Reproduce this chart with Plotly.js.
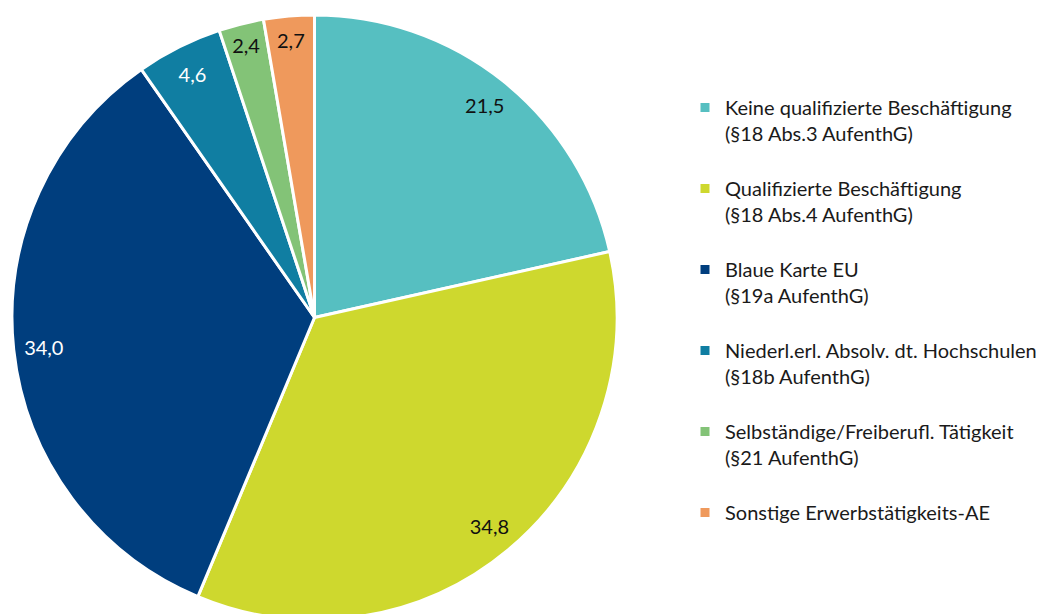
<!DOCTYPE html>
<html><head><meta charset="utf-8">
<script src="https://cdn.plot.ly/plotly-3.0.1.min.js"></script>
<style>html,body{margin:0;padding:0;overflow:hidden;background:#fff}</style>
</head><body>
<div id="chart" style="width:1043px;height:632px"></div>
<script>
const categories = [
  "Keine qualifizierte Beschäftigung<br>(§18 Abs.3 AufenthG)<br> ",
  "Qualifizierte Beschäftigung<br>(§18 Abs.4 AufenthG)<br> ",
  "Blaue Karte EU<br>(§19a AufenthG)<br> ",
  "Niederl.erl. Absolv. dt. Hochschulen<br>(§18b AufenthG)<br> ",
  "Selbständige/Freiberufl. Tätigkeit<br>(§21 AufenthG)<br> ",
  "Sonstige Erwerbstätigkeits-AE"
];
const values = [21.5, 34.8, 34.0, 4.6, 2.4, 2.7];
const colors = ["#56BFC1", "#CED82E", "#003E7E", "#107EA2", "#83C377", "#EF995C"];
const labelColors = ["#111111", "#111111", "#ffffff", "#ffffff", "#111111", "#111111"];

const FONT = "Lato, 'Open Sans', sans-serif";
const W = 1043, H = 632;
const dom = {x: [12 / W, 617 / W], y: [(H - 620) / H, (H - 15) / H]};

const pie = {
  type: "pie",
  labels: categories,
  values: values,
  sort: false,
  direction: "clockwise",
  rotation: 0,
  domain: dom,
  marker: {colors: colors, line: {color: "#ffffff", width: 3}},
  textinfo: "none",
  hoverinfo: "label+value"
};
const ring = {
  type: "pie",
  labels: categories,
  values: values,
  sort: false,
  direction: "clockwise",
  rotation: 0,
  domain: dom,
  hole: 0.8,
  showlegend: false,
  marker: {colors: colors.map(() => "rgba(0,0,0,0)"), line: {width: 0}},
  texttemplate: "%{value:.1f}",
  textposition: "inside",
  insidetextorientation: "horizontal",
  textfont: {family: FONT, size: 20, color: labelColors},
  hoverinfo: "skip"
};
const layout = {
  width: W, height: H,
  margin: {l: 0, r: 0, t: 0, b: 0},
  separators: ",.",
  font: {family: FONT, color: "#1a1a1a"},
  paper_bgcolor: "#ffffff",
  showlegend: true,
  legend: {
    x: 685 / W, xanchor: "left",
    y: (H - 88) / H, yanchor: "top",
    valign: "top",
    font: {family: FONT, size: 20, color: "#1a1a1a"},
    bgcolor: "rgba(0,0,0,0)",
    traceorder: "normal"
  }
};
Plotly.newPlot("chart", [pie, ring], layout, {displayModeBar: false, staticPlot: true});
</script>
</body></html>
